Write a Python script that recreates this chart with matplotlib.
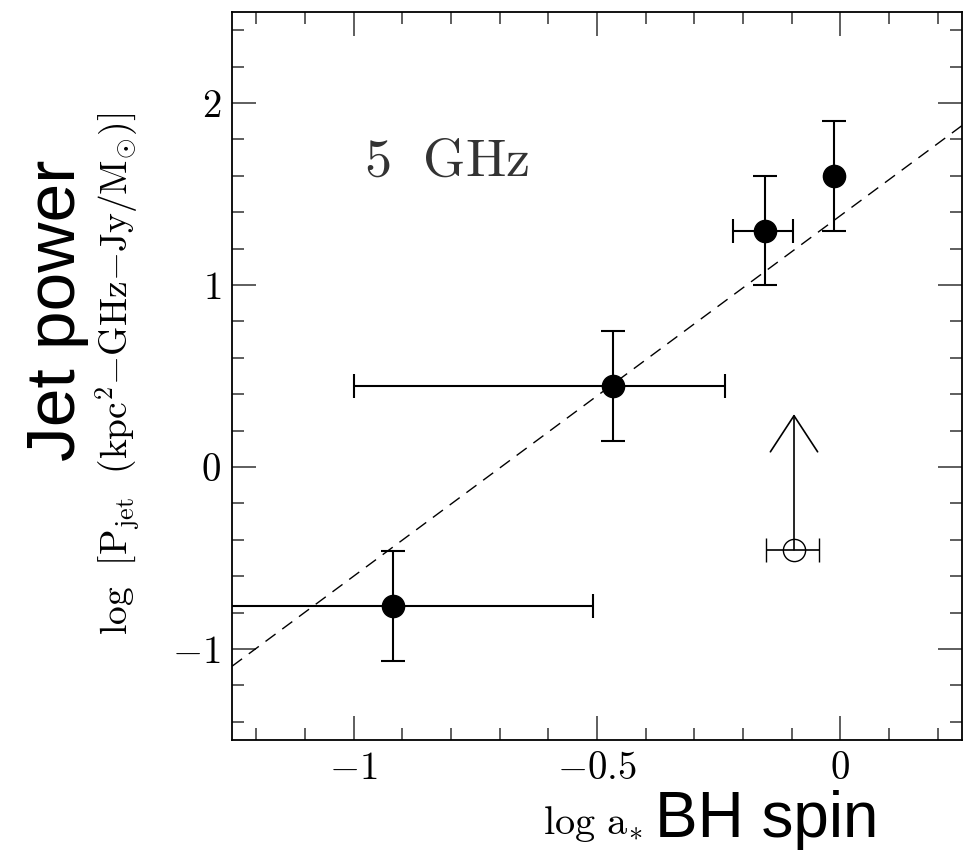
import matplotlib
matplotlib.use("Agg")
import matplotlib.pyplot as plt
import numpy as np
from matplotlib.ticker import MultipleLocator

# ------------------------------
# DATA
# ------------------------------
spin = [-0.92, -0.468, -0.155, -0.012]          # log a*
power = [-0.764, 0.445, 1.297, 1.599]           # log P_jet
spin_lo = [0.40, 0.532, 0.066, 0.0]             # left x error
spin_hi = [0.411, 0.231, 0.058, 0.0]            # right x error
power_err = [0.30, 0.30, 0.30, 0.30]

# lower limit source (open circle + arrow)
lim_spin = -0.095
lim_spin_lo = 0.058
lim_spin_hi = 0.052
lim_power = -0.455
lim_arrow_top = 0.29

# dashed fit: log P = a + b log a*
fit_a = 1.38
fit_b = 1.98

xticks = [-1, -0.5, 0]
xticklabels = [r"$-1$", r"$-0.5$", r"$0$"]
yticks = [-1, 0, 1, 2]
yticklabels = [r"$-1$", r"$0$", r"$1$", r"$2$"]

# ------------------------------
# STYLE
# ------------------------------
plt.rcParams["mathtext.fontset"] = "cm"
plt.rcParams["font.family"] = ["Liberation Sans", "DejaVu Sans"]

fig = plt.figure(figsize=(9.79, 8.52), dpi=100)
ax = fig.add_axes([0.237, 0.1315, 0.7455, 0.8545])

ax.set_xlim(-1.25, 0.25)
ax.set_ylim(-1.5, 2.5)

# fit line
xx = np.array(ax.get_xlim())
ax.plot(xx, fit_a + fit_b * xx, color="black", lw=1.0, dashes=(9, 6))

# detections
ax.errorbar(spin, power, xerr=[spin_lo, spin_hi], yerr=power_err,
            fmt="o", ms=16, color="black", mfc="black", mec="black",
            ecolor="black", elinewidth=1.5, capsize=8.5, capthick=1.5,
            zorder=3)

# lower limit
ax.errorbar([lim_spin], [lim_power], xerr=[[lim_spin_lo], [lim_spin_hi]],
            fmt="o", ms=16, mfc="none", mec="black", mew=1.0,
            ecolor="black", elinewidth=1.2, capsize=8.5, capthick=1.2,
            zorder=3)
ax.annotate("", xy=(lim_spin, lim_arrow_top), xytext=(lim_spin, lim_power),
            arrowprops=dict(arrowstyle="->,head_length=1.3,head_width=0.85",
                            mutation_scale=20, lw=1.2, color="black",
                            shrinkA=0, shrinkB=0))

ax.text(-0.978, 1.676, r"$\mathrm{5\ \ GHz}$", fontsize=39, va="center",
        ha="left", color="#333333")

# ticks
ax.set_xticks(xticks)
ax.set_xticklabels(xticklabels, fontsize=28)
ax.set_yticks(yticks)
ax.set_yticklabels(yticklabels, fontsize=28)
ax.xaxis.set_minor_locator(MultipleLocator(0.1))
ax.yaxis.set_minor_locator(MultipleLocator(0.2))
ax.tick_params(which="both", direction="in", top=True, right=True,
               width=1.1, color="#333333")
ax.tick_params(which="major", length=17)
ax.tick_params(which="minor", length=8.6)
ax.tick_params(axis="x", which="major", pad=8)
ax.tick_params(axis="y", which="major", pad=8)
for s in ax.spines.values():
    s.set_linewidth(1.3)

# axis labels
fig.text(118 / 979, 1 - 374 / 852,
         r"$\mathrm{log\ \ [P_{jet}\ \ (kpc^{2}{-}GHz{-}Jy/M_{\odot})]}$",
         rotation=90, fontsize=27, ha="center", va="center")
fig.text(57 / 979, 1 - 310 / 852, "Jet power", rotation=90, fontsize=50,
         ha="center", va="center")
fig.text(642 / 979, 1 - 834 / 852, r"$\mathrm{log\ a_{*}}$", fontsize=29,
         ha="right", va="baseline")
fig.text(655 / 979, 1 - 837 / 852, "BH spin", fontsize=46, ha="left",
         va="baseline")

fig.savefig("out.png", dpi=100)
